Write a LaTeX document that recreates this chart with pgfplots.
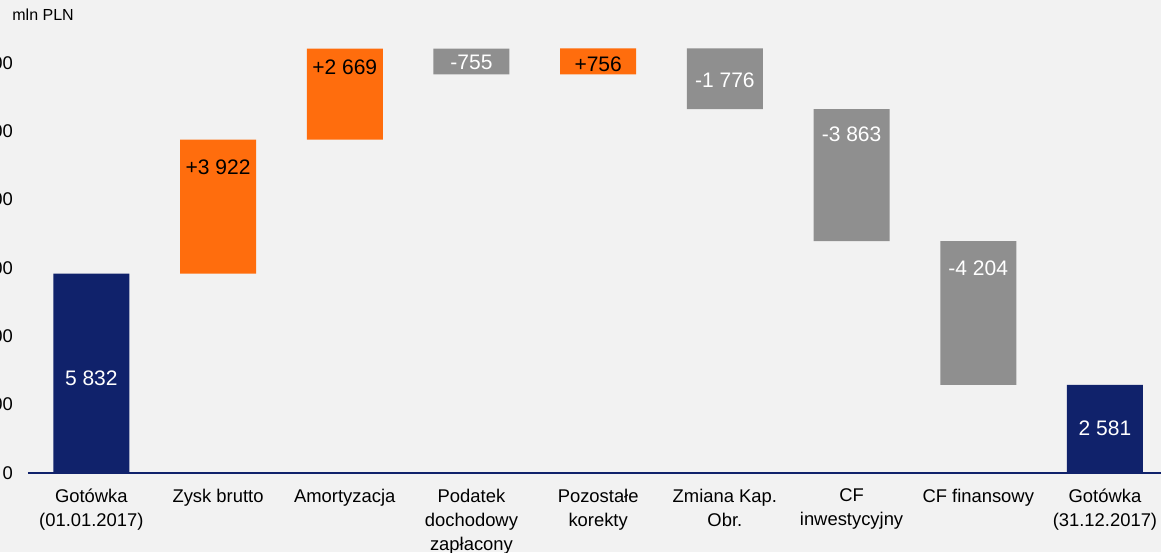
\documentclass[border=0pt]{standalone}
\usepackage{fontspec}
\setmainfont{Liberation Sans}
\usepackage{pgfplots}
\pgfplotsset{compat=1.18}
\definecolor{bg}{HTML}{F2F2F2}
\definecolor{navy}{HTML}{10226B}
\definecolor{orng}{HTML}{FF6D0D}
\definecolor{grayb}{HTML}{8F8F8F}
\begin{document}
\begin{tikzpicture}
\fill[bg] (-14pt,-39.5pt) rectangle (566.5pt,236.5pt);
\begin{axis}[
  at={(0,0)}, anchor=south west,
  scale only axis, width=570.15pt, height=222.1pt,
  xmin=-0.5, xmax=8.5, ymin=0, ymax=13000,
  ybar stacked, bar width=38pt,
  axis x line*=bottom, axis y line*=left,
  x axis line style={draw=navy, line width=0.9pt, -},
  y axis line style={draw=none},
  tick style={draw=none},
  scaled y ticks=false,
  xtick={0,...,8},
  xticklabels={{Gotówka\\(01.01.2017)},{Zysk brutto},{Amortyzacja},{Podatek\\dochodowy\\zapłacony},{Pozostałe\\korekty},{Zmiana Kap.\\Obr.},{CF\\inwestycyjny},{CF finansowy},{Gotówka\\(31.12.2017)}},
  xticklabel style={align=center, font=\fontsize{9.2}{12}\selectfont, text=black, yshift=-4.5pt},
  ytick={0,2000,4000,6000,8000,10000,12000},
  yticklabels={0,2 000,4 000,6 000,8 000,10 000,12 000},
  yticklabel style={font=\fontsize{9.2}{11}\selectfont, text=black, xshift=-4pt},
  /pgf/number format/assume math mode=true,
  clip=false,
]
\addplot[draw=none, fill=none] coordinates {(0,0) (1,5832) (2,9754) (3,11668) (4,11668) (5,10648) (6,6785) (7,2581) (8,0)};
\addplot[draw=none, fill=navy] coordinates {(0,5832) (1,0) (2,0) (3,0) (4,0) (5,0) (6,0) (7,0) (8,2581)};
\addplot[draw=none, fill=orng] coordinates {(0,0) (1,3922) (2,2669) (3,0) (4,756) (5,0) (6,0) (7,0) (8,0)};
\addplot[draw=none, fill=grayb] coordinates {(0,0) (1,0) (2,0) (3,755) (4,0) (5,1776) (6,3863) (7,4204) (8,0)};
\end{axis}
\begin{axis}[
  at={(0,0)}, anchor=south west,
  scale only axis, width=570.15pt, height=222.1pt,
  xmin=-0.5, xmax=8.5, ymin=0, ymax=13000,
  hide axis, clip=false,
]
\addplot[only marks, mark=none, nodes near coords, point meta=explicit symbolic,
  every node near coord/.append style={anchor=center, text=white, font=\fontsize{10.5}{12}\selectfont}]
  coordinates {(0,2780) [5 832] (3,12028) [-755] (5,11501) [-1 776] (6,9921) [-3 863] (7,6000) [-4 204] (8,1317) [2 581]};
\addplot[only marks, mark=none, nodes near coords, point meta=explicit symbolic,
  every node near coord/.append style={anchor=center, text=black, font=\fontsize{10.5}{12}\selectfont}]
  coordinates {(1,8955) [+3 922] (2,11882) [+2 669] (4,11970) [+756]};
\end{axis}
\node[anchor=base west, font=\fontsize{8}{9}\selectfont, inner sep=0pt] at (-8pt,226.3pt) {mln PLN};
\pgfresetboundingbox
\useasboundingbox (-14pt,-39.5pt) rectangle (566.5pt,236.5pt);
\end{tikzpicture}
\end{document}
